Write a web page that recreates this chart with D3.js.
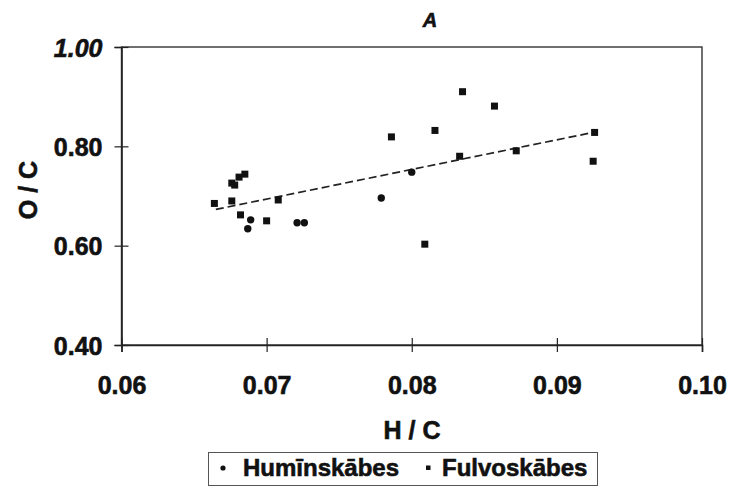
<!DOCTYPE html>
<html>
<head>
<meta charset="utf-8">
<script src="https://cdn.jsdelivr.net/npm/d3@7"></script>
<style>
  html, body { margin: 0; padding: 0; background: #fff; }
  svg { display: block; }
  text { font-family: "Liberation Sans", Arial, Helvetica, sans-serif; font-weight: bold; fill: #111; stroke: #111; stroke-width: 0.6px; }
</style>
</head>
<body>
<svg id="chart" width="734" height="486"></svg>
<script>
// Humic acids (round markers): H/C and O/C atomic ratios
const humX = [0.0689, 0.0687, 0.0721, 0.0726, 0.0800, 0.0779];
const humY = [0.652, 0.634, 0.646, 0.646, 0.748, 0.696];

// Fulvic acids (square markers)
const fulX = [0.0664, 0.0676, 0.0678, 0.0681, 0.0685, 0.0676, 0.0682, 0.0700, 0.0708,
              0.0835, 0.0857, 0.0786, 0.0816, 0.0833, 0.0872, 0.0926, 0.0925, 0.0809];
const fulY = [0.685, 0.726, 0.722, 0.738, 0.744, 0.690, 0.662, 0.650, 0.692,
              0.910, 0.881, 0.819, 0.832, 0.780, 0.791, 0.828, 0.770, 0.603];

// Dashed trend line end points
const trendX = [0.0665, 0.0925];
const trendY = [0.673, 0.828];

const xTicks = [0.06, 0.07, 0.08, 0.09, 0.10];
const yTicks = [0.40, 0.60, 0.80, 1.00];

const titleText = "A";
const xTitle = "H / C";
const yTitle = "O / C";
const seriesNames = ["Humīnskābes", "Fulvoskābes"];

const svg = d3.select("#chart");

const x = d3.scaleLinear().domain([0.06, 0.10]).range([121.5, 702]);
const y = d3.scaleLinear().domain([0.40, 1.00]).range([345, 47]);

// plot frame
svg.append("rect")
  .attr("x", x(0.06)).attr("y", y(1.0))
  .attr("width", x(0.10) - x(0.06)).attr("height", y(0.40) - y(1.0))
  .attr("fill", "none").attr("stroke", "#333").attr("stroke-width", 1.4);

// x axis with ticks crossing the line
const xAxis = svg.append("g")
  .attr("transform", `translate(0,${y(0.40)})`)
  .call(d3.axisBottom(x).tickValues(xTicks).tickFormat(d3.format(".2f")).tickSize(7).tickPadding(0));
xAxis.select(".domain").attr("stroke", "#222").attr("stroke-width", 1.6);
xAxis.selectAll(".tick line").attr("y1", -7).attr("y2", 7).attr("stroke", "#222").attr("stroke-width", 1.2);
xAxis.selectAll(".tick text")
  .attr("y", 49).attr("dy", null)
  .style("font-size", "25px").style("font-family", "'Liberation Sans', Arial, sans-serif")
  .style("font-weight", "bold").attr("fill", "#111").attr("stroke", "#111").attr("stroke-width", 0.6);

// y axis
const yAxis = svg.append("g")
  .attr("transform", `translate(${x(0.06)},0)`)
  .call(d3.axisLeft(y).tickValues(yTicks).tickFormat(d3.format(".2f")).tickSize(7).tickPadding(0));
yAxis.select(".domain").attr("stroke", "#222").attr("stroke-width", 1.6);
yAxis.selectAll(".tick line").attr("x1", -7).attr("x2", 7).attr("stroke", "#222").attr("stroke-width", 1.2);
yAxis.selectAll(".tick text")
  .attr("x", -19).attr("dy", "0.36em")
  .style("font-size", "25px").style("font-family", "'Liberation Sans', Arial, sans-serif")
  .style("font-weight", "bold").style("font-style", d => d === 1.0 ? "italic" : "normal")
  .attr("fill", "#111").attr("stroke", "#111").attr("stroke-width", 0.6);

// trend line
svg.append("line")
  .attr("x1", x(trendX[0])).attr("y1", y(trendY[0]))
  .attr("x2", x(trendX[1])).attr("y2", y(trendY[1]))
  .attr("stroke", "#222").attr("stroke-width", 1.7)
  .attr("stroke-dasharray", "8,4");

// humic acid points
svg.append("g").selectAll("circle")
  .data(humX.map((d, i) => [d, humY[i]]))
  .join("circle")
  .attr("cx", d => x(d[0])).attr("cy", d => y(d[1]))
  .attr("r", 3.7).attr("fill", "#111");

// fulvic acid points
const s = 7;
svg.append("g").selectAll("rect")
  .data(fulX.map((d, i) => [d, fulY[i]]))
  .join("rect")
  .attr("x", d => x(d[0]) - s / 2).attr("y", d => y(d[1]) - s / 2)
  .attr("width", s).attr("height", s).attr("fill", "#111");

// title and axis titles
svg.append("text").attr("x", 430).attr("y", 27).attr("text-anchor", "middle")
  .style("font-size", "20px").style("font-style", "italic").text(titleText);

svg.append("text").attr("x", 412).attr("y", 439).attr("text-anchor", "middle")
  .style("font-size", "25px").text(xTitle);

svg.append("text").attr("transform", "translate(37,190) rotate(-90)").attr("text-anchor", "middle")
  .style("font-size", "25px").text(yTitle);

// legend
const lg = svg.append("g");
lg.append("rect").attr("x", 208.5).attr("y", 452.5).attr("width", 389).attr("height", 33)
  .attr("fill", "#fff").attr("stroke", "#555").attr("stroke-width", 1);
lg.append("circle").attr("cx", 223).attr("cy", 468).attr("r", 2.6).attr("fill", "#111");
lg.append("text").attr("x", 243).attr("y", 476).style("font-size", "24px").text(seriesNames[0]);
lg.append("rect").attr("x", 426).attr("y", 465.5).attr("width", 4.5).attr("height", 4.5).attr("fill", "#111");
lg.append("text").attr("x", 442).attr("y", 476).style("font-size", "24px").text(seriesNames[1]);
</script>
</body>
</html>
